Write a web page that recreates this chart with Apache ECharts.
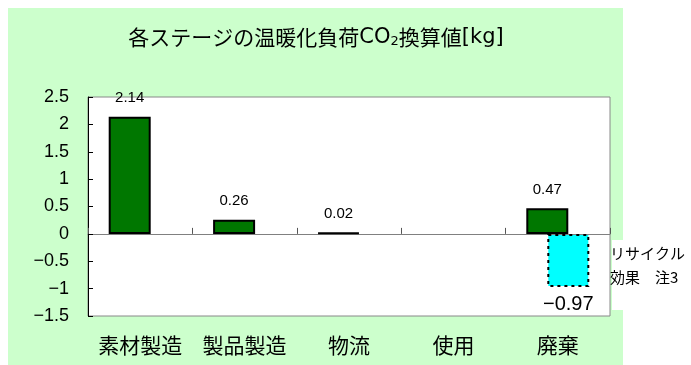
<!DOCTYPE html>
<html>
<head>
<meta charset="utf-8">
<script src="https://cdn.jsdelivr.net/npm/echarts@6/dist/echarts.min.js"></script>
<style>
  body { margin: 0; background: #fff; }
  #bg { position: absolute; left: 8px; top: 8px; width: 615px; height: 357px; background: #ccffcc; }
  #main { position: absolute; left: 0; top: 0; width: 691px; height: 365px; }
</style>
</head>
<body>
<div id="bg"></div>
<div id="main"></div>
<script>
// 各ステージの値 (kg-CO2)
var categories = ['素材製造', '製品製造', '物流', '使用', '廃棄']
var loadValues = [2.14, 0.26, 0.02, null, 0.47]
var recycleValues = [null, null, null, null, -0.97]
var yMin = -1.5
var yMax = 2.5
var yStep = 0.5

var latin = '"Liberation Sans", Arial, "Noto Sans CJK JP", sans-serif'
var cjk = '"Noto Sans CJK JP", "Liberation Sans", sans-serif'

function minusFmt (v) {
  v = Number(v)
  return v < 0 ? '\u2212' + Math.abs(v) : String(v)
}

var chart = echarts.init(document.getElementById('main'))
var options = {
  backgroundColor: 'transparent',
  animation: false,
  grid: {
    left: 88,
    right: 81,
    top: 97,
    bottom: 49,
    show: true,
    backgroundColor: '#ffffff',
    borderColor: '#888888',
    borderWidth: 1
  },
  graphic: [
    {
      type: 'text',
      x: 316,
      y: 35,
      style: {
        text: '{t|各ステージの温暖化負荷}{l|CO}{sub|2}{t|換算値}{l|[kg]}',
        align: 'center',
        verticalAlign: 'middle',
        fill: '#000',
        font: '21px ' + cjk,
        rich: {
          t: { fontSize: 21, fontFamily: cjk, fill: '#000', verticalAlign: 'bottom', lineHeight: 26 },
          l: { fontSize: 21, fontFamily: '"DejaVu Sans", sans-serif', fill: '#000', verticalAlign: 'bottom', lineHeight: 26 },
          sub: { fontSize: 13, fontFamily: '"DejaVu Sans", sans-serif', fill: '#000', verticalAlign: 'bottom', lineHeight: 26 }
        }
      }
    },
    {
      type: 'rect',
      shape: { x: 612, y: 240, width: 11, height: 70 },
      style: { fill: '#ffffff' },
      z: 100
    },
    {
      type: 'text',
      x: 610,
      y: 253,
      z: 101,
      style: {
        text: 'リサイクル',
        verticalAlign: 'middle',
        fill: '#000',
        font: '15px ' + cjk
      }
    },
    {
      type: 'text',
      x: 610,
      y: 277,
      z: 101,
      style: {
        text: '効果　注3',
        verticalAlign: 'middle',
        fill: '#000',
        font: '15px ' + cjk
      }
    }
  ],
  xAxis: [{
    type: 'category',
    data: categories,
    axisLine: { onZero: true, lineStyle: { color: '#808080', width: 1 } },
    axisTick: { show: true, inside: true, length: 6, lineStyle: { color: '#555' } },
    axisLabel: { show: false },
    splitLine: { show: false }
  }, {
    type: 'category',
    data: categories,
    position: 'bottom',
    axisLine: { show: false, onZero: false },
    axisTick: { show: false },
    axisLabel: { show: true, interval: 0, color: '#000', fontSize: 21, fontFamily: cjk, margin: 19 },
    splitLine: { show: false }
  }],
  yAxis: {
    type: 'value',
    min: yMin,
    max: yMax,
    interval: yStep,
    axisLine: { show: true, lineStyle: { color: '#000', width: 1 } },
    axisTick: { show: true, inside: true, length: 5, lineStyle: { color: '#000' } },
    axisLabel: { color: '#000', fontSize: 18, fontFamily: latin, margin: 19, formatter: minusFmt },
    splitLine: { show: false }
  },
  series: [{
    name: '温暖化負荷',
    type: 'bar',
    barWidth: 42,
    barGap: '-50%',
    data: loadValues,
    itemStyle: { color: '#007700', borderColor: '#000', borderWidth: 2 },
    label: {
      show: true,
      position: 'top',
      distance: 11,
      color: '#000',
      fontSize: 15,
      fontFamily: latin
    }
  }, {
    name: 'リサイクル効果',
    type: 'bar',
    barWidth: 42,
    data: recycleValues,
    itemStyle: { color: '#00ffff', borderColor: '#000', borderWidth: 2, borderType: [3, 4] },
    label: {
      show: true,
      position: 'bottom',
      distance: 8,
      color: '#000',
      fontSize: 20,
      fontFamily: latin,
      formatter: function (p) { return minusFmt(p.value) }
    }
  }]
}
chart.setOption(options)
</script>
</body>
</html>
